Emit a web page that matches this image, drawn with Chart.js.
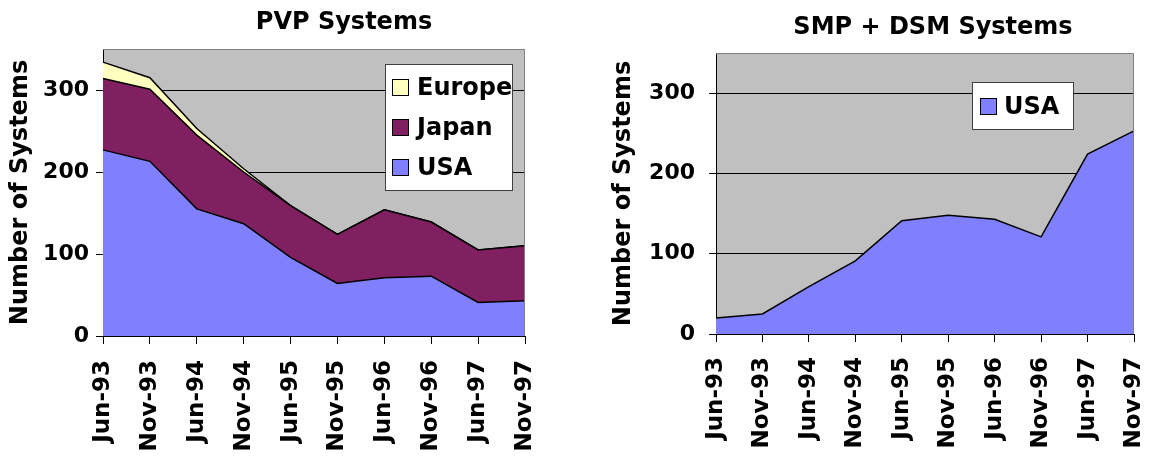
<!DOCTYPE html>
<html>
<head>
<meta charset="utf-8">
<script src="https://cdn.jsdelivr.net/npm/chart.js@4.4.1/dist/chart.umd.min.js"></script>
<style>
  html, body { margin: 0; padding: 0; background: #fff; width: 1151px; height: 456px; overflow: hidden; }
  canvas { position: absolute; top: 0; }
  #pvp { left: 0; }
  #smp { left: 575px; }
</style>
</head>
<body>
<canvas id="pvp" width="575" height="456"></canvas>
<canvas id="smp" width="576" height="456"></canvas>
<script>
// Survey dates (every half year, June / November)
const categories = ['Jun-93', 'Nov-93', 'Jun-94', 'Nov-94', 'Jun-95', 'Nov-95', 'Jun-96', 'Nov-96', 'Jun-97', 'Nov-97'];

// PVP systems by region (stacked)
const pvpUSA    = [227, 213, 155, 137, 96, 64, 71, 73, 41, 43];
const pvpJapan  = [87, 88, 90, 63, 63, 60, 83, 66, 64, 67];
const pvpEurope = [20, 14, 8, 4, 0, 0, 0, 0, 0, 0];

// SMP + DSM systems
const smpUSA = [20, 25, 59, 91, 141, 148, 143, 121, 224, 253];

// Value axis
const yMin = 0, yMax = 350, yStep = 100;

const titles = { pvp: 'PVP Systems', smp: 'SMP + DSM Systems' };
const yAxisTitle = 'Number of Systems';

const colors = { USA: '#8080ff', Japan: '#802060', Europe: '#ffffc0' };

const FONT = 'DejaVu Sans';
Chart.defaults.font.family = FONT;
Chart.defaults.color = '#000';

// Grey plot background with a grey frame on the top and right
const plotBackground = {
  id: 'plotBackground',
  beforeDraw(chart) {
    const { ctx, chartArea: a } = chart;
    ctx.save();
    ctx.fillStyle = '#c0c0c0';
    ctx.fillRect(a.left, a.top, a.right - a.left, a.bottom - a.top);
    ctx.restore();
  },
  afterDatasetsDraw(chart) {
    const { ctx, chartArea: a } = chart;
    ctx.save();
    ctx.strokeStyle = '#808080';
    ctx.lineWidth = 1;
    ctx.beginPath();
    ctx.moveTo(Math.round(a.left), Math.round(a.top) + 0.5);
    ctx.lineTo(Math.round(a.right) - 0.5, Math.round(a.top) + 0.5);
    ctx.lineTo(Math.round(a.right) - 0.5, Math.round(a.bottom));
    ctx.stroke();
    ctx.restore();
  }
};

// Horizontal placement of the chart title
const centerTitle = {
  id: 'centerTitle',
  afterLayout(chart, args, opts) {
    const t = chart.titleBlock;
    if (!t || opts.x == null) return;
    const half = (t.right - t.left) / 2;
    t.left = opts.x - half;
    t.right = opts.x + half;
  }
};

// Boxed legend inside the plot area (top series first)
const boxedLegend = {
  id: 'boxedLegend',
  afterDraw(chart, args, o) {
    const { ctx } = chart;
    const items = chart.data.datasets.slice().reverse();
    ctx.save();
    ctx.fillStyle = '#fff';
    ctx.fillRect(o.x, o.y, o.w, o.h);
    ctx.strokeStyle = '#404040';
    ctx.lineWidth = 1;
    ctx.strokeRect(o.x + 0.5, o.y + 0.5, o.w - 1, o.h - 1);
    ctx.font = 'bold 24px "' + FONT + '"';
    ctx.textBaseline = 'middle';
    ctx.textAlign = 'left';
    items.forEach((ds, i) => {
      const cy = o.firstRow + i * o.rowGap;
      const sy = Math.round(cy - o.swatch / 2);
      ctx.fillStyle = ds.backgroundColor;
      ctx.fillRect(o.swatchX, sy, o.swatch, o.swatch);
      ctx.strokeStyle = '#000';
      ctx.strokeRect(o.swatchX + 0.5, sy + 0.5, o.swatch - 1, o.swatch - 1);
      ctx.fillStyle = '#000';
      ctx.fillText(ds.label, o.textX, cy + 1.5);
    });
    ctx.restore();
  }
};

function areaSet(label, data, fill) {
  return {
    label, data, fill,
    backgroundColor: colors[label],
    borderColor: '#000',
    borderWidth: 1.5,
    pointRadius: 0,
    pointHoverRadius: 0,
    tension: 0
  };
}

function buildChart(id, title, datasets, g) {
  return new Chart(document.getElementById(id), {
    type: 'line',
    data: { labels: categories, datasets },
    plugins: [plotBackground, centerTitle, boxedLegend],
    options: {
      responsive: false,
      animation: false,
      events: [],
      layout: { padding: { left: 0, top: 0, bottom: 0, right: g.padRight } },
      plugins: {
        legend: { display: false },
        tooltip: { enabled: false },
        title: {
          display: true,
          text: title,
          color: '#000',
          font: { size: 24, weight: 'bold', lineHeight: 1 },
          padding: g.titlePad
        },
        centerTitle: { x: g.titleX },
        boxedLegend: g.legend
      },
      scales: {
        x: {
          type: 'category',
          offset: false,
          grid: { display: true, drawOnChartArea: false, drawTicks: true, tickLength: 8, color: '#000', offset: false },
          border: { display: true, color: '#000', width: 1 },
          ticks: {
            autoSkip: false, minRotation: 90, maxRotation: 90,
            padding: g.xTickPad, color: '#000',
            font: { size: 23, weight: 'bold', lineHeight: 1 }
          },
          afterFit(s) { s.height = g.xHeight; s.paddingLeft = 0; s.paddingRight = 0; }
        },
        y: {
          stacked: true,
          min: yMin, max: yMax,
          grid: { color: '#000', lineWidth: 1, tickLength: 7, drawTicks: true },
          border: { display: true, color: '#000', width: 1 },
          ticks: {
            stepSize: yStep, includeBounds: false,
            padding: g.yTickPad, color: '#000',
            font: { size: 22, weight: 'bold', lineHeight: 1 }
          },
          title: {
            display: true, text: yAxisTitle, color: '#000',
            font: { size: 24, weight: 'bold', lineHeight: 1 },
            padding: { top: g.yTitlePad, bottom: 0 }
          },
          afterFit(s) { s.width = g.yWidth; s.paddingTop = 0; s.paddingBottom = 0; }
        }
      }
    }
  });
}

buildChart('pvp', titles.pvp, [
  areaSet('USA', pvpUSA, 'origin'),
  areaSet('Japan', pvpJapan, '-1'),
  areaSet('Europe', pvpEurope, '-1')
], {
  padRight: 50, yWidth: 103, xHeight: 120,
  titlePad: { top: 11, bottom: 14 }, titleX: 344,
  yTitlePad: 9, yTickPad: 7, xTickPad: 16,
  legend: { x: 385, y: 64, w: 128, h: 127, swatchX: 392, swatch: 17, textX: 417, firstRow: 87, rowGap: 40 }
});

buildChart('smp', titles.smp, [
  areaSet('USA', smpUSA, 'origin')
], {
  padRight: 17, yWidth: 141, xHeight: 122,
  titlePad: { top: 16, bottom: 13 }, titleX: 358,
  yTitlePad: 37, yTickPad: 14, xTickPad: 15,
  legend: { x: 397, y: 82, w: 102, h: 48, swatchX: 405, swatch: 17, textX: 429, firstRow: 106, rowGap: 40 }
});
</script>
</body>
</html>
